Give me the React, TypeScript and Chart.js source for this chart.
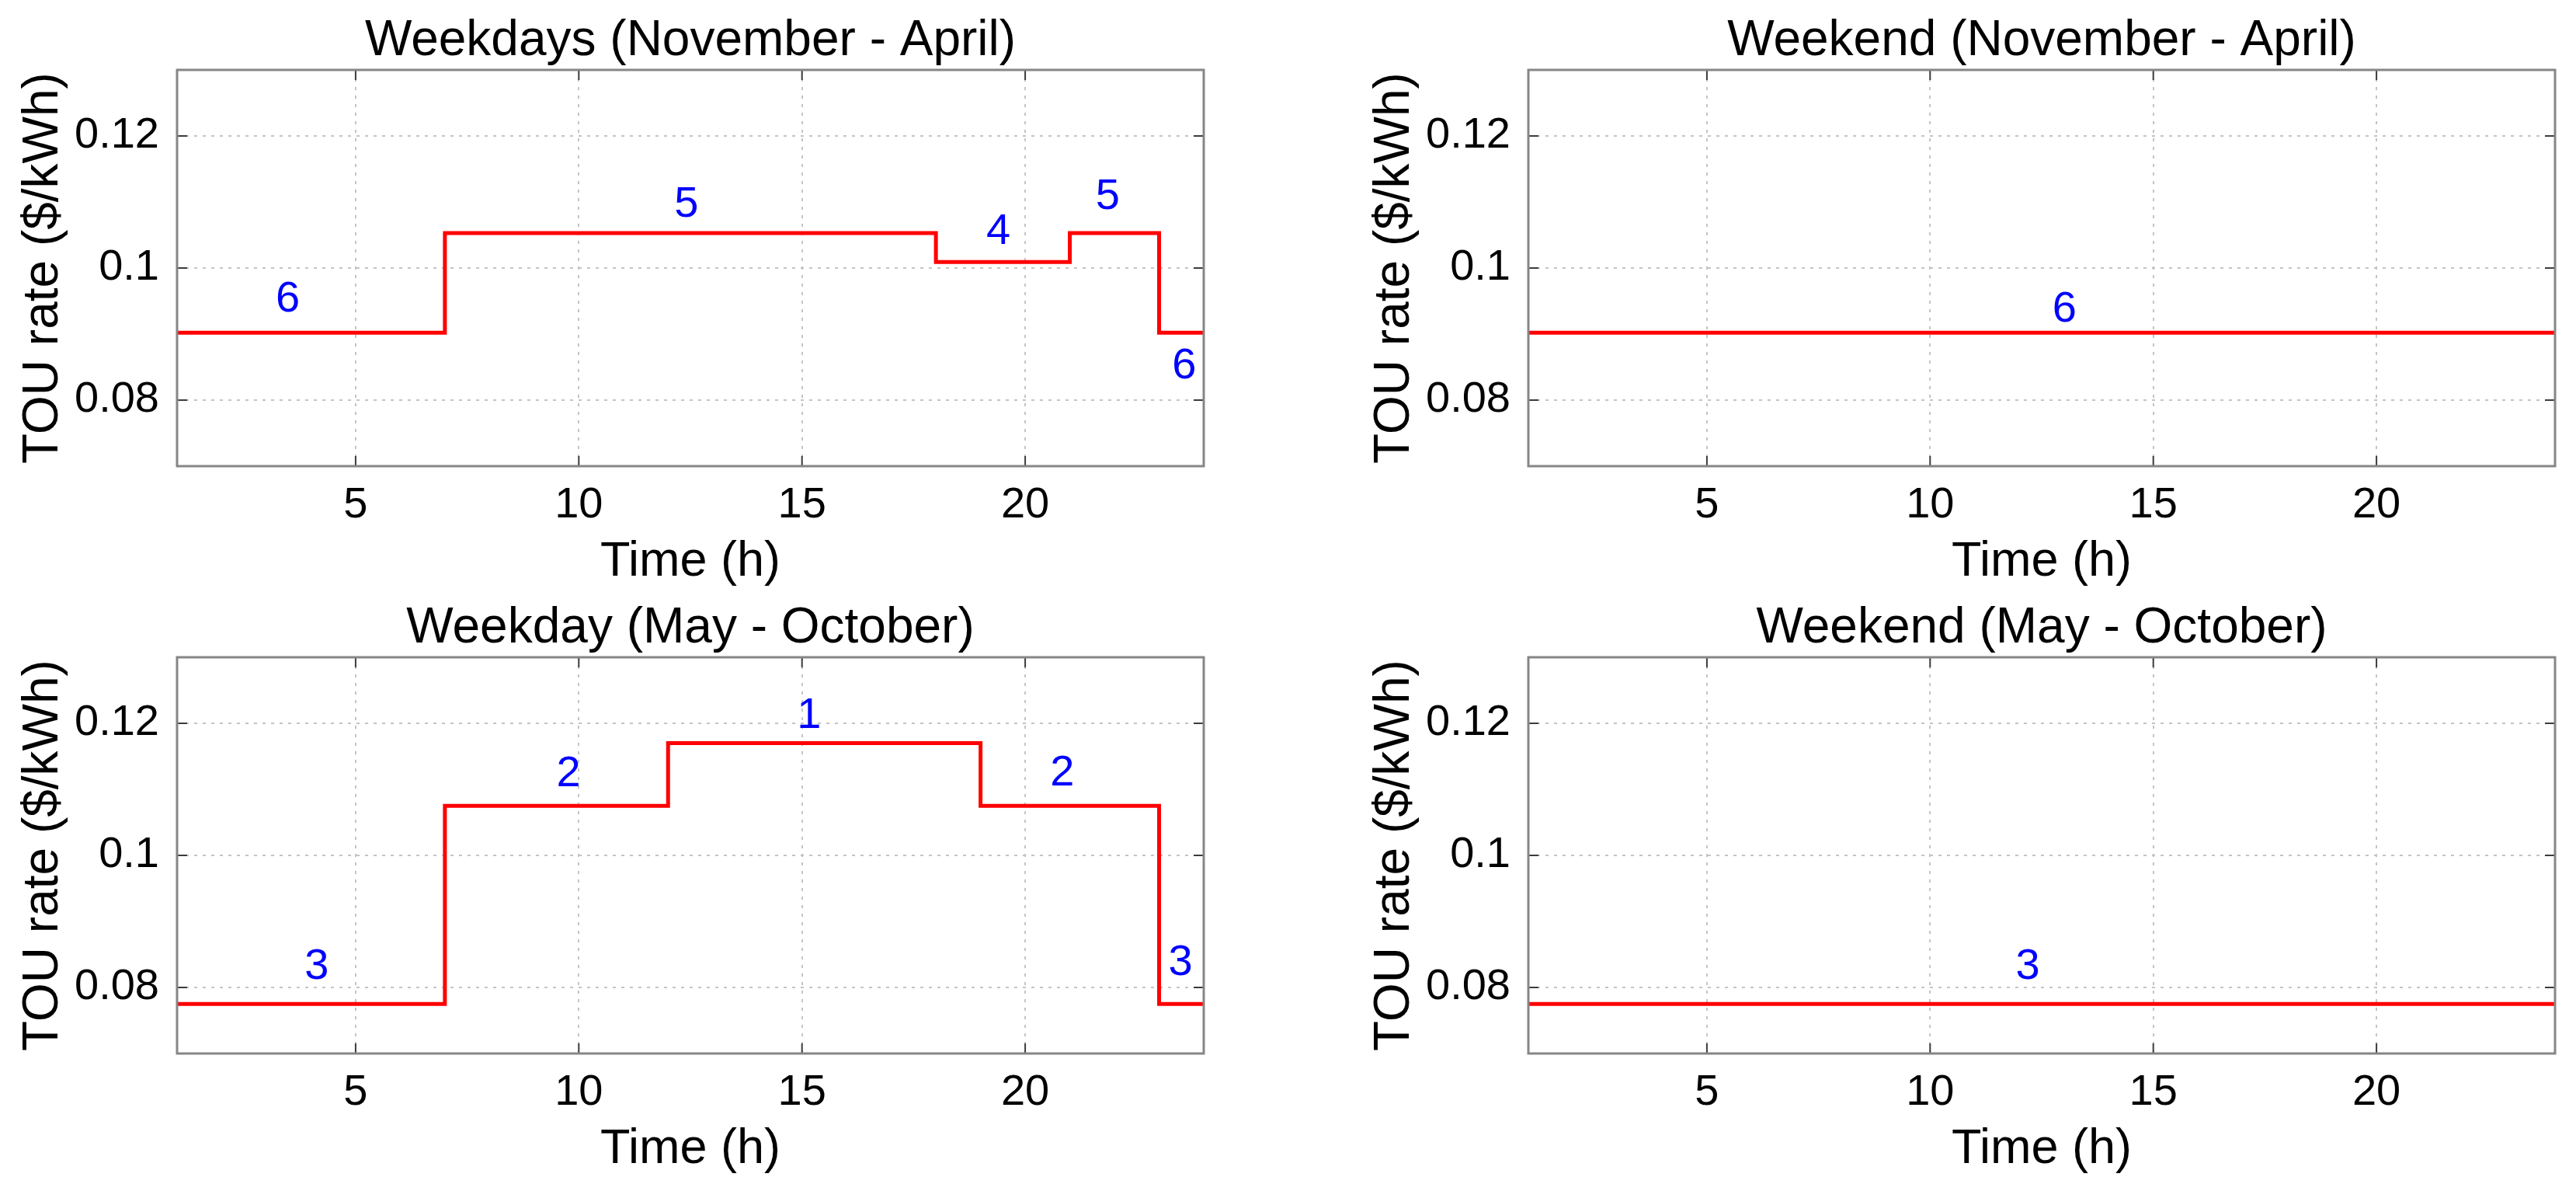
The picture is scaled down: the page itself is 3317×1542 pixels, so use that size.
import React, { useEffect, useRef } from 'react';
import { Chart, registerables } from 'chart.js';

Chart.register(...registerables);

const FONT = "'Liberation Sans', Arial, Helvetica, sans-serif";

// Axes
const xMin = 1;
const xMax = 24;
const yMin = 0.07;
const yMax = 0.13;
const xTicks = [5, 10, 15, 20];
const xTickLabels = ['5', '10', '15', '20'];
const yTicks = [0.08, 0.1, 0.12];
const yTickLabels = ['0.08', '0.1', '0.12'];

const titles = [
  'Weekdays (November - April)',
  'Weekend (November - April)',
  'Weekday (May - October)',
  'Weekend (May - October)',
];
const xTitle = 'Time (h)';
const yTitle = 'TOU rate ($/kWh)';

// Series: start hour of each tariff period and its rate (stairs)
const winterWeekdayHours = [1, 7, 18, 21, 23, 24];
const winterWeekdayRates = [0.0902, 0.1053, 0.1009, 0.1053, 0.0902, 0.0902];
const winterWeekendHours = [1, 24];
const winterWeekendRates = [0.0902, 0.0902];
const summerWeekdayHours = [1, 7, 12, 19, 23, 24];
const summerWeekdayRates = [0.0775, 0.1075, 0.117, 0.1075, 0.0775, 0.0775];
const summerWeekendHours = [1, 24];
const summerWeekendRates = [0.0775, 0.0775];

// Period number annotations (text, x, y in data units)
const winterWeekdayTags = ['6', '5', '4', '5', '6'];
const winterWeekdayTagX = [3.48, 12.41, 19.4, 21.85, 23.56];
const winterWeekdayTagY = [0.0952, 0.1096, 0.1055, 0.1107, 0.0851];
const winterWeekendTags = ['6'];
const winterWeekendTagX = [13.01];
const winterWeekendTagY = [0.0937];
const summerWeekdayTags = ['3', '2', '1', '2', '3'];
const summerWeekdayTagX = [4.13, 9.77, 15.16, 20.83, 23.48];
const summerWeekdayTagY = [0.0831, 0.1123, 0.1211, 0.1124, 0.0837];
const summerWeekendTags = ['3'];
const summerWeekendTagX = [12.19];
const summerWeekendTagY = [0.0831];

const CW = 1577;
const CH = 786;

type PanelProps = {
  title: string;
  hours: number[];
  rates: number[];
  tags: string[];
  tagX: number[];
  tagY: number[];
  left: number;
  top: number;
};

function Panel({ title, hours, rates, tags, tagX, tagY, left, top }: PanelProps) {
  const ref = useRef<HTMLCanvasElement | null>(null);

  useEffect(() => {
    if (!ref.current) return;
    const framePlugin = {
      id: 'matlabFrame',
      afterDatasetsDraw(chart: any) {
        const { ctx, chartArea: a, scales } = chart;
        const xs = scales.x;
        const ys = scales.y;
        ctx.save();
        // period annotations
        ctx.fillStyle = '#0000ff';
        ctx.font = `56px ${FONT}`;
        ctx.textAlign = 'center';
        ctx.textBaseline = 'middle';
        tags.forEach((t, i) => {
          ctx.fillText(t, xs.getPixelForValue(tagX[i]), ys.getPixelForValue(tagY[i]));
        });
        // inward tick marks on all sides
        ctx.strokeStyle = '#3c3c3c';
        ctx.lineWidth = 2;
        ctx.beginPath();
        xTicks.forEach((v) => {
          const x = xs.getPixelForValue(v);
          ctx.moveTo(x, a.bottom);
          ctx.lineTo(x, a.bottom - 13);
          ctx.moveTo(x, a.top);
          ctx.lineTo(x, a.top + 13);
        });
        yTicks.forEach((v) => {
          const y = ys.getPixelForValue(v);
          ctx.moveTo(a.left, y);
          ctx.lineTo(a.left + 13, y);
          ctx.moveTo(a.right, y);
          ctx.lineTo(a.right - 13, y);
        });
        ctx.stroke();
        // box
        ctx.strokeStyle = '#868686';
        ctx.lineWidth = 3;
        ctx.strokeRect(a.left, a.top, a.right - a.left, a.bottom - a.top);
        ctx.restore();
      },
    };

    const chart = new Chart(ref.current, {
      type: 'line',
      data: {
        datasets: [
          {
            data: hours.map((h, i) => ({ x: h, y: rates[i] })),
            borderColor: '#ff0000',
            borderWidth: 5,
            pointRadius: 0,
            stepped: true,
            fill: false,
            tension: 0,
          },
        ],
      },
      options: {
        animation: false,
        responsive: false,
        devicePixelRatio: 1,
        layout: { padding: { left: 0, right: 27, top: 0, bottom: 0 } },
        plugins: {
          legend: { display: false },
          tooltip: { enabled: false },
          title: {
            display: true,
            text: title,
            fullSize: false,
            color: '#000',
            font: { family: FONT, size: 64, weight: 'normal', lineHeight: 1 },
            padding: { top: 21, bottom: 5 },
          },
        },
        scales: {
          x: {
            type: 'linear',
            min: xMin,
            max: xMax,
            afterBuildTicks: (s: any) => {
              s.ticks = xTicks.map((v) => ({ value: v }));
            },
            afterFit: (s: any) => {
              s.height = 186;
            },
            ticks: {
              padding: 17,
              color: '#000',
              maxRotation: 0,
              autoSkip: false,
              font: { family: FONT, size: 56 },
              callback: (_v: any, i: number) => xTickLabels[i],
            },
            grid: { color: '#c4c4c4', lineWidth: 2, drawTicks: false },
            border: { display: false, dash: [4, 7] },
            title: {
              display: true,
              text: xTitle,
              color: '#000',
              font: { family: FONT, size: 63 },
              padding: { top: 0, bottom: 25 },
            },
          },
          y: {
            type: 'linear',
            min: yMin,
            max: yMax,
            afterBuildTicks: (s: any) => {
              s.ticks = yTicks.map((v) => ({ value: v }));
            },
            afterFit: (s: any) => {
              s.width = 228;
            },
            ticks: {
              padding: 23,
              color: '#000',
              autoSkip: false,
              font: { family: FONT, size: 56 },
              callback: (_v: any, i: number) => yTickLabels[i],
            },
            grid: { color: '#c4c4c4', lineWidth: 2, drawTicks: false },
            border: { display: false, dash: [4, 7] },
            title: {
              display: true,
              text: yTitle,
              color: '#000',
              font: { family: FONT, size: 64 },
              padding: { top: 18, bottom: 0 },
            },
          },
        },
      } as any,
      plugins: [framePlugin],
    });
    return () => chart.destroy();
  }, []);

  return (
    <canvas
      ref={ref}
      width={CW}
      height={CH}
      style={{ position: 'absolute', left, top, width: CW, height: CH }}
    />
  );
}

export default function App() {
  return (
    <div
      style={{
        position: 'absolute',
        left: 0,
        top: 0,
        width: 3317,
        height: 1542,
        background: '#fff',
        overflow: 'hidden',
      }}
    >
      <Panel
        title={titles[0]}
        hours={winterWeekdayHours}
        rates={winterWeekdayRates}
        tags={winterWeekdayTags}
        tagX={winterWeekdayTagX}
        tagY={winterWeekdayTagY}
        left={0}
        top={0}
      />
      <Panel
        title={titles[1]}
        hours={winterWeekendHours}
        rates={winterWeekendRates}
        tags={winterWeekendTags}
        tagX={winterWeekendTagX}
        tagY={winterWeekendTagY}
        left={1740}
        top={0}
      />
      <Panel
        title={titles[2]}
        hours={summerWeekdayHours}
        rates={summerWeekdayRates}
        tags={summerWeekdayTags}
        tagX={summerWeekdayTagX}
        tagY={summerWeekdayTagY}
        left={0}
        top={756}
      />
      <Panel
        title={titles[3]}
        hours={summerWeekendHours}
        rates={summerWeekendRates}
        tags={summerWeekendTags}
        tagX={summerWeekendTagX}
        tagY={summerWeekendTagY}
        left={1740}
        top={756}
      />
    </div>
  );
}
